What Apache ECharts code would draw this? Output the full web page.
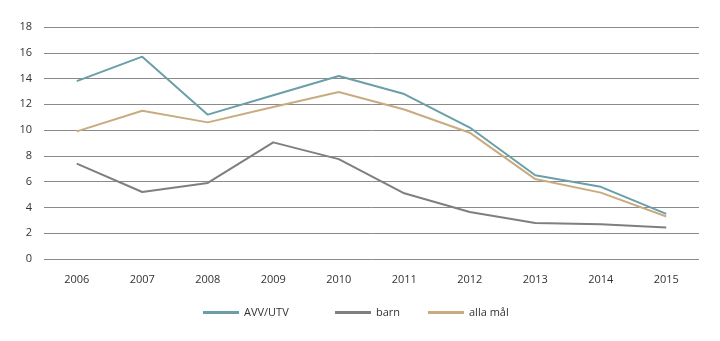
<!DOCTYPE html>
<html><head><meta charset="utf-8">
<script src="https://cdn.jsdelivr.net/npm/echarts@6/dist/echarts.min.js"></script>
<style>html,body{margin:0;padding:0;background:#fff}#c{width:720px;height:341px}</style>
</head><body><div id="c"></div>
<script>
const years = ['2006','2007','2008','2009','2010','2011','2012','2013','2014','2015'];
const avvUtv = [13.8, 15.7, 11.2, 12.7, 14.2, 12.8, 10.2, 6.5, 5.6, 3.5];
const barn = [7.4, 5.2, 5.9, 9.05, 7.75, 5.1, 3.65, 2.8, 2.7, 2.45];
const allaMal = [9.9, 11.5, 10.6, 11.8, 12.95, 11.6, 9.8, 6.2, 5.15, 3.3];
const names = ['AVV/UTV', 'barn', 'alla mål'];
const colors = ['#6b9fa8', '#7f7f7f', '#c8ac80'];
const font = 'Open Sans';
const chart = echarts.init(document.getElementById('c'));
const mkLegend = (name, left) => ({
  data: [name], left: left, top: 302, itemWidth: 36, itemHeight: 3, itemGap: 6,
  icon: 'rect',
  textStyle: {fontFamily: font, fontSize: 11, color: '#333'},
  selectedMode: false
});
chart.setOption({
  animation: false,
  legend: [mkLegend(names[0], 198), mkLegend(names[1], 330), mkLegend(names[2], 423)],
  grid: {left: 44, right: 21, top: 27, bottom: 82},
  xAxis: {
    type: 'category', data: years, boundaryGap: true,
    axisLine: {show: false}, axisTick: {show: false},
    axisLabel: {fontFamily: font, fontSize: 11, color: '#333', margin: 15}
  },
  yAxis: {
    type: 'value', min: 0, max: 18, interval: 2,
    axisLine: {show: false}, axisTick: {show: false},
    axisLabel: {fontFamily: font, fontSize: 11, color: '#333', margin: 12},
    splitLine: {lineStyle: {color: '#8a8a8a', width: 1}}
  },
  series: [avvUtv, barn, allaMal].map((d, i) => ({
    name: names[i], type: 'line', data: d, symbol: 'none',
    lineStyle: {color: colors[i], width: 2},
    itemStyle: {color: colors[i]}
  }))
});
</script></body></html>
